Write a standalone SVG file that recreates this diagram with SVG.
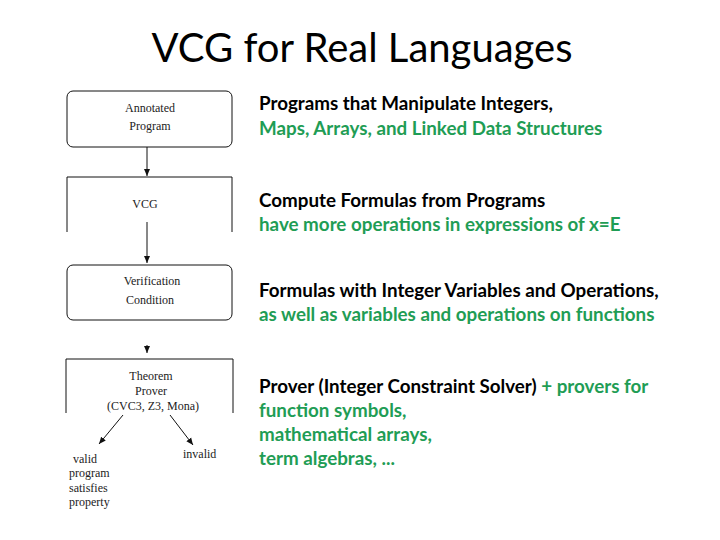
<svg xmlns="http://www.w3.org/2000/svg" width="720" height="540" viewBox="0 0 720 540">
<defs>
<style>
.title{font-family:Lato,"Open Sans","Liberation Sans",sans-serif;font-size:40px;fill:#000}
.rt{font-family:Lato,"Open Sans","Liberation Sans",sans-serif;font-size:18.8px;font-weight:bold;fill:#000}
.g{fill:#1f9d55}
.lt{font-family:"Liberation Serif","DejaVu Serif",serif;font-size:12px;fill:#222}
.box{fill:#fff;stroke:#111;stroke-width:1}
.edge{stroke:#111;stroke-width:1;fill:none}
</style>
<marker id="ah" markerWidth="8" markerHeight="8" refX="7" refY="4" orient="auto" markerUnits="userSpaceOnUse">
<path d="M0,1 L7,4 L0,7 Z" fill="#111"/>
</marker>
</defs>
<rect width="720" height="540" fill="#fff"/>
<text class="title" x="362" y="62" text-anchor="middle">VCG for Real Languages</text>

<g id="connectors">
<line class="edge" x1="147" y1="147" x2="147" y2="176" marker-end="url(#ah)"/>
<line class="edge" x1="147" y1="222" x2="147" y2="263" marker-end="url(#ah)"/>
<line class="edge" x1="147" y1="345" x2="147" y2="353" marker-end="url(#ah)"/>
<line class="edge" x1="123" y1="415" x2="99" y2="444" marker-end="url(#ah)"/>
<line class="edge" x1="170" y1="415" x2="193" y2="445" marker-end="url(#ah)"/>
</g>

<g id="node-annotated">
<rect class="box" x="67" y="91" width="165" height="56" rx="6"/>
<text class="lt" x="150" y="112" text-anchor="middle">Annotated</text>
<text class="lt" x="150" y="130" text-anchor="middle">Program</text>
</g>
<g id="node-vcg">
<path class="edge" d="M67,232 L67,177 L232,177 L232,232"/>
<text class="lt" x="145" y="208" text-anchor="middle">VCG</text>
</g>
<g id="node-vc">
<rect class="box" x="67" y="265" width="165" height="55" rx="6"/>
<text class="lt" x="152" y="285" text-anchor="middle">Verification</text>
<text class="lt" x="150" y="304" text-anchor="middle">Condition</text>
</g>
<g id="node-prover">
<path class="edge" d="M66,413 L66,359 L233,359 L233,413"/>
<text class="lt" x="151" y="380" text-anchor="middle">Theorem</text>
<text class="lt" x="151" y="395" text-anchor="middle">Prover</text>
<text class="lt" x="153" y="410" text-anchor="middle">(CVC3, Z3, Mona)</text>
</g>
<g id="node-valid">
<text class="lt" x="73" y="463">valid</text>
<text class="lt" x="69" y="477">program</text>
<text class="lt" x="69" y="492">satisfies</text>
<text class="lt" x="69" y="506">property</text>
</g>
<g id="node-invalid">
<text class="lt" x="183" y="458">invalid</text>
</g>

<g id="descriptions">
<text class="rt" x="259" y="110">Programs that Manipulate Integers,</text>
<text class="rt g" x="259" y="135">Maps, Arrays, and Linked Data Structures</text>
<text class="rt" x="259" y="207">Compute Formulas from Programs</text>
<text class="rt g" x="259" y="231">have more operations in expressions of x=E</text>
<text class="rt" x="259" y="297">Formulas with Integer Variables and Operations,</text>
<text class="rt g" x="259" y="321">as well as variables and operations on functions</text>
<text class="rt" x="259" y="393">Prover (Integer Constraint Solver) <tspan class="g">+ provers for</tspan></text>
<text class="rt g" x="259" y="417">function symbols,</text>
<text class="rt g" x="259" y="441">mathematical arrays,</text>
<text class="rt g" x="259" y="465">term algebras, ...</text>
</g>
</svg>
